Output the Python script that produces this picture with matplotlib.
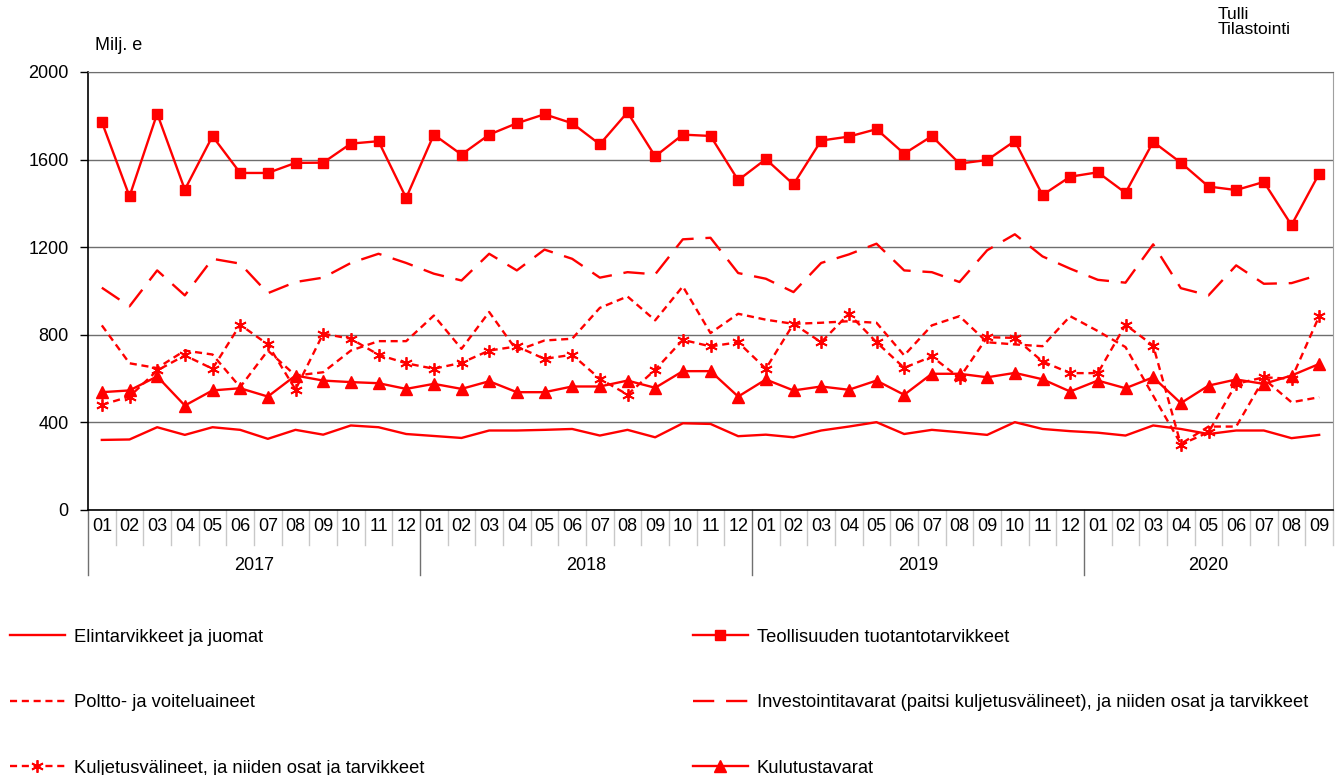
import numpy as np
import matplotlib
matplotlib.use('Agg')
import matplotlib.pyplot as plt
import matplotlib.transforms as mtransforms

plt.rcParams['font.family'] = ['Liberation Sans', 'DejaVu Sans']

RED = '#FF0000'

# ─── Data (Milj. e), 2017-01 .. 2020-09 ───
years = ['2017', '2018', '2019', '2020']
months = (['01', '02', '03', '04', '05', '06', '07', '08', '09', '10', '11', '12'] * 3
          + ['01', '02', '03', '04', '05', '06', '07', '08', '09'])

elintarvikkeet = [320, 322, 378, 343, 378, 366, 325, 366, 344, 386, 378, 347,
                  338, 329, 363, 363, 366, 370, 340, 366, 332, 396, 393, 337,
                  344, 332, 363, 381, 401, 347, 366, 355, 343, 401, 370, 360,
                  353, 340, 386, 370, 347, 363, 363, 328, 343]
teollisuus = [1772, 1432, 1810, 1463, 1707, 1539, 1539, 1585, 1586, 1673, 1684, 1425,
              1714, 1623, 1714, 1766, 1807, 1766, 1670, 1816, 1615, 1714, 1708, 1506,
              1602, 1487, 1687, 1705, 1739, 1627, 1707, 1582, 1598, 1685, 1438, 1522,
              1542, 1448, 1681, 1586, 1477, 1461, 1498, 1301, 1536]
poltto = [843, 670, 648, 728, 710, 561, 728, 614, 629, 728, 771, 771,
          888, 736, 904, 728, 774, 782, 923, 975, 866, 1021, 808, 896,
          869, 850, 855, 862, 855, 706, 843, 885, 766, 756, 748, 885,
          817, 744, 522, 302, 381, 381, 599, 492, 515]
investointi = [1015, 930, 1094, 980, 1147, 1125, 990, 1041, 1061, 1128, 1170, 1128,
               1079, 1048, 1170, 1094, 1189, 1147, 1061, 1086, 1076, 1236, 1243, 1082,
               1056, 995, 1128, 1167, 1216, 1094, 1086, 1041, 1186, 1259, 1158, 1102,
               1051, 1038, 1213, 1013, 980, 1117, 1033, 1036, 1074]
kuljetus = [480, 518, 637, 706, 645, 846, 756, 550, 805, 782, 709, 670,
            645, 672, 728, 747, 690, 709, 599, 527, 640, 777, 747, 766,
            645, 850, 766, 896, 766, 649, 701, 603, 789, 786, 678, 625,
            625, 846, 751, 299, 355, 576, 606, 599, 885]
kulutus = [538, 546, 610, 477, 546, 556, 518, 614, 591, 584, 579, 553,
           576, 553, 588, 538, 538, 564, 564, 591, 558, 634, 634, 518,
           596, 546, 564, 549, 591, 526, 622, 622, 606, 626, 597, 541,
           591, 556, 606, 488, 568, 596, 576, 614, 667]

x = np.arange(len(months))

fig = plt.figure(figsize=(13.38, 7.75), dpi=100)
ax = fig.add_axes([88 / 1338, 1 - 510 / 775, 1245 / 1338, 438 / 775])

lw = 1.7
l_elin, = ax.plot(x, elintarvikkeet, color=RED, lw=lw)
l_teol, = ax.plot(x, teollisuus, color=RED, lw=lw, marker='s', ms=6.5)
l_polt, = ax.plot(x, poltto, color=RED, lw=lw, dashes=(3, 2))
l_inv, = ax.plot(x, investointi, color=RED, lw=lw, dashes=(9, 5))
l_kulj, = ax.plot(x, kuljetus, color=RED, lw=lw, dashes=(3, 2),
                  marker=(6, 2, 0), ms=9, mew=1.3)
l_kulu, = ax.plot(x, kulutus, color=RED, lw=lw, marker='^', ms=8)

ax.set_xlim(-0.5, len(months) - 0.5)
ax.set_ylim(0, 2000)
ax.set_yticks(np.arange(0, 2001, 400))
ax.set_yticklabels([str(v) for v in range(0, 2001, 400)], fontsize=13)
ax.tick_params(axis='y', direction='out', length=6, width=1, pad=8)
ax.set_xticks([])
ax.grid(axis='y', color='#6e6e6e', lw=1)
ax.set_axisbelow(True)
for s in ['left', 'bottom']:
    ax.spines[s].set_color('black')
    ax.spines[s].set_linewidth(1.2)
ax.spines['right'].set_color('#a0a0a0')
ax.spines['top'].set_color('#6e6e6e')

# two-level category axis
trans = mtransforms.blended_transform_factory(ax.transData, ax.transAxes)
for i, m in enumerate(months):
    ax.text(i, -0.038, m, transform=trans, ha='center', va='center', fontsize=13)
for b in range(len(months) + 1):
    if b % 12 == 0:
        ax.plot([b - 0.5, b - 0.5], [0, -0.148], transform=trans, color='#707070',
                lw=1, clip_on=False)
    else:
        ax.plot([b - 0.5, b - 0.5], [0, -0.08], transform=trans, color='#c8c8c8',
                lw=1, clip_on=False)
for k, yr in enumerate(years):
    start = 12 * k
    end = min(12 * (k + 1), len(months))
    ax.text((start + end - 1) / 2, -0.126, yr, transform=trans, ha='center',
            va='center', fontsize=13)

fig.text(95 / 1338, 1 - 46 / 775, 'Milj. e', fontsize=13, va='center')
fig.text(1218 / 1338, 1 - 22 / 775, 'Tulli\nTilastointi', fontsize=12.5, va='center',
         linespacing=0.95)

leg_kw = dict(frameon=False, fontsize=13.2, handlelength=3.0, handletextpad=0.5,
              labelspacing=2.65, borderaxespad=0, borderpad=0.2)
fig.legend([l_elin, l_polt, l_kulj],
           ['Elintarvikkeet ja juomat', 'Poltto- ja voiteluaineet',
            'Kuljetusvälineet, ja niiden osat ja tarvikkeet'],
           loc='upper left', bbox_to_anchor=(6 / 1338, 1 - 625 / 775), **leg_kw)
fig.legend([l_teol, l_inv, l_kulu],
           ['Teollisuuden tuotantotarvikkeet',
            'Investointitavarat (paitsi kuljetusvälineet), ja niiden osat ja tarvikkeet',
            'Kulutustavarat'],
           loc='upper left', bbox_to_anchor=(689 / 1338, 1 - 625 / 775), **leg_kw)

fig.savefig('out.png', dpi=100, facecolor='white')
